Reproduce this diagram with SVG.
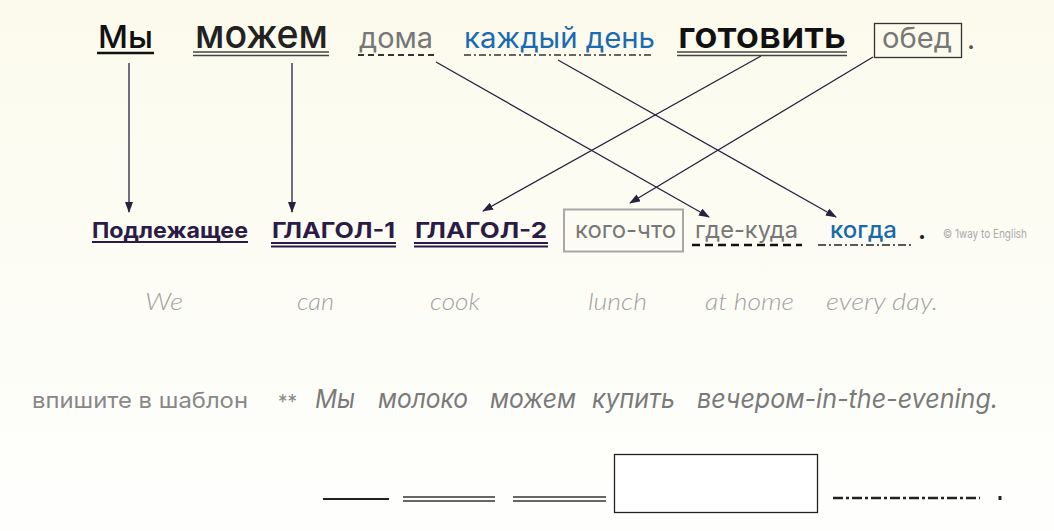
<svg xmlns="http://www.w3.org/2000/svg" width="1054" height="531" viewBox="0 0 1054 531">
<defs>
<linearGradient id="bg" x1="0" y1="0" x2="0" y2="1">
<stop offset="0" stop-color="#fbfaec"/>
<stop offset="0.55" stop-color="#fdfdf6"/>
<stop offset="1" stop-color="#fefefd"/>
</linearGradient>
<marker id="ah" markerWidth="11" markerHeight="8" refX="10" refY="4" orient="auto" markerUnits="userSpaceOnUse">
<path d="M0,0 L11,4 L0,8 z" fill="#2a2040"/>
</marker>
<style>
text{font-family:Inter,"Noto Sans","DejaVu Sans",sans-serif}
.top{font-size:28px}
.mid{font-size:22px;font-weight:700;fill:#2d1b47}
.gray{fill:#777}
.blue{fill:#1a6bb0}
.en{font-family:Lato,"Open Sans",sans-serif;font-style:italic;font-weight:300;font-size:24px;fill:#a2a2a2}
.ex{font-style:italic;font-size:26px;fill:#7a7a7a}
.conn line{stroke:#2a2040;stroke-width:1.3;marker-end:url(#ah)}
</style>
</defs>
<rect width="1054" height="531" fill="url(#bg)"/>

<!-- Top sentence -->
<g id="w-my">
<text x="98" y="48" font-size="31" font-weight="500" fill="#111" textLength="55" lengthAdjust="spacingAndGlyphs">Мы</text>
<line x1="97" y1="53" x2="154" y2="53" stroke="#111" stroke-width="2.5"/>
</g>
<g id="w-mozhem">
<text x="195" y="48" font-size="40" font-weight="500" fill="#222" textLength="133" lengthAdjust="spacingAndGlyphs">можем</text>
<line x1="193" y1="52" x2="329" y2="52" stroke="#444" stroke-width="1.6"/>
<line x1="193" y1="55.5" x2="329" y2="55.5" stroke="#444" stroke-width="1.6"/>
</g>
<g id="w-doma">
<text class="top gray" x="359" y="48" textLength="74" lengthAdjust="spacingAndGlyphs">дома</text>
<line x1="358" y1="55" x2="435" y2="55" stroke="#333" stroke-width="1.8" stroke-dasharray="6,4"/>
</g>
<g id="w-kazhdy">
<text class="top blue" x="464" y="48" textLength="191" lengthAdjust="spacingAndGlyphs">каждый день</text>
<line x1="464" y1="55" x2="654" y2="55" stroke="#333" stroke-width="1.4" stroke-dasharray="7,3,2,3"/>
</g>
<g id="w-gotovit">
<text x="678" y="48" font-size="37" font-weight="600" fill="#111" textLength="168" lengthAdjust="spacingAndGlyphs">готовить</text>
<line x1="677" y1="52" x2="847" y2="52" stroke="#444" stroke-width="1.6"/>
<line x1="677" y1="55.5" x2="847" y2="55.5" stroke="#444" stroke-width="1.6"/>
</g>
<g id="w-obed">
<rect x="874.5" y="23.5" width="87" height="34" fill="none" stroke="#333" stroke-width="1.3"/>
<text class="top gray" x="882" y="48" textLength="70" lengthAdjust="spacingAndGlyphs">обед</text>
</g>
<text x="967" y="49" font-size="28" fill="#555">.</text>

<!-- Template row -->
<g id="n-subj">
<text class="mid" x="92" y="238" textLength="156" lengthAdjust="spacingAndGlyphs">Подлежащее</text>
<line x1="92" y1="242" x2="248" y2="242" stroke="#2d1b47" stroke-width="2"/>
</g>
<g id="n-verb1">
<text class="mid" x="272" y="238" textLength="123" lengthAdjust="spacingAndGlyphs">ГЛАГОЛ-1</text>
<line x1="271" y1="243" x2="396" y2="243" stroke="#2d1b47" stroke-width="1.8"/>
<line x1="271" y1="246.5" x2="396" y2="246.5" stroke="#2d1b47" stroke-width="1.8"/>
</g>
<g id="n-verb2">
<text class="mid" x="415" y="238" textLength="132" lengthAdjust="spacingAndGlyphs">ГЛАГОЛ-2</text>
<line x1="414" y1="243" x2="548" y2="243" stroke="#2d1b47" stroke-width="1.8"/>
<line x1="414" y1="246.5" x2="548" y2="246.5" stroke="#2d1b47" stroke-width="1.8"/>
</g>
<g id="n-obj">
<rect x="564" y="209.5" width="119" height="42" fill="none" stroke="#a8a8a8" stroke-width="2"/>
<text x="575" y="238" font-size="24" font-weight="400" fill="#777" textLength="101" lengthAdjust="spacingAndGlyphs">кого-что</text>
</g>
<g id="n-place">
<text x="695" y="238" font-size="24" fill="#777" textLength="103" lengthAdjust="spacingAndGlyphs">где-куда</text>
<line x1="692" y1="245" x2="802" y2="245" stroke="#111" stroke-width="2.4" stroke-dasharray="8,5"/>
</g>
<g id="n-time">
<text x="830" y="238" font-size="24" font-weight="500" fill="#1a6aaa" textLength="67" lengthAdjust="spacingAndGlyphs">когда</text>
<line x1="818" y1="245" x2="914" y2="245" stroke="#222" stroke-width="1.3" stroke-dasharray="8,3,2,3"/>
</g>
<text x="918" y="239" font-size="24" font-weight="700" fill="#222">.</text>
<text x="943" y="238" font-family="'Open Sans',Lato,sans-serif" font-size="12" fill="#aaa" textLength="84" lengthAdjust="spacingAndGlyphs">© 1way to English</text>

<!-- English translation -->
<g id="english">
<text class="en" x="145" y="310" textLength="38" lengthAdjust="spacingAndGlyphs">We</text>
<text class="en" x="297" y="310" textLength="37" lengthAdjust="spacingAndGlyphs">can</text>
<text class="en" x="430" y="310" textLength="50" lengthAdjust="spacingAndGlyphs">cook</text>
<text class="en" x="588" y="310" textLength="59" lengthAdjust="spacingAndGlyphs">lunch</text>
<text class="en" x="705" y="310" textLength="89" lengthAdjust="spacingAndGlyphs">at home</text>
<text class="en" x="826" y="310" textLength="112" lengthAdjust="spacingAndGlyphs">every day.</text>
</g>

<!-- Exercise -->
<g id="exercise">
<text x="32" y="408" font-size="22" fill="#888" textLength="216" lengthAdjust="spacingAndGlyphs">впишите в шаблон</text>
<text x="278" y="409" font-size="20" fill="#888" textLength="19" lengthAdjust="spacingAndGlyphs">**</text>
<text class="ex" x="315" y="408" textLength="40" lengthAdjust="spacingAndGlyphs">Мы</text>
<text class="ex" x="378" y="408" textLength="90" lengthAdjust="spacingAndGlyphs">молоко</text>
<text class="ex" x="490" y="408" textLength="86" lengthAdjust="spacingAndGlyphs">можем</text>
<text class="ex" x="592" y="408" textLength="83" lengthAdjust="spacingAndGlyphs">купить</text>
<text class="ex" x="697" y="408" textLength="301" lengthAdjust="spacingAndGlyphs">вечером-in-the-evening.</text>
</g>

<!-- Blank template -->
<g id="blank-template">
<line x1="323" y1="499" x2="389" y2="499" stroke="#222" stroke-width="2"/>
<line x1="403" y1="497" x2="495" y2="497" stroke="#333" stroke-width="1.6"/>
<line x1="403" y1="501" x2="495" y2="501" stroke="#333" stroke-width="1.6"/>
<line x1="513" y1="497" x2="606" y2="497" stroke="#333" stroke-width="1.6"/>
<line x1="513" y1="501" x2="606" y2="501" stroke="#333" stroke-width="1.6"/>
<rect x="614.5" y="454.5" width="203" height="58" fill="#fff" stroke="#222" stroke-width="1.3"/>
<line x1="833" y1="498" x2="980" y2="498" stroke="#222" stroke-width="2.4" stroke-dasharray="10,3,3,3"/>
<rect x="998.5" y="496" width="3" height="4" fill="#222"/>
</g>

<!-- Connectors -->
<g id="connectors" class="conn">
<line x1="129" y1="63" x2="129" y2="212"/>
<line x1="292" y1="63" x2="292" y2="212"/>
<line x1="436" y1="62" x2="709" y2="217"/>
<line x1="558" y1="60" x2="836" y2="217"/>
<line x1="761" y1="56" x2="483" y2="211"/>
<line x1="873" y1="57" x2="630" y2="203"/>
</g>
</svg>
